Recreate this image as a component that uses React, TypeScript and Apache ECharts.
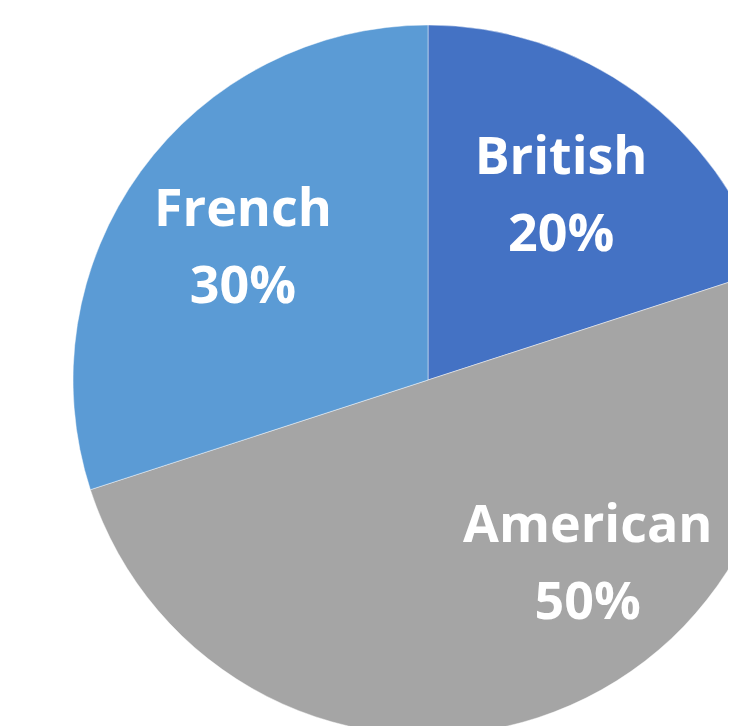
import React, { useEffect, useRef } from "react";
import * as echarts from "echarts";

const categories = ["British", "American", "French"];
const values = [20, 50, 30];
const colors = ["#4472C4", "#A5A5A5", "#5B9BD5"];
const labelOffsets: [number, number][] = [
  [27, -42],
  [104, 8],
  [-39, -30],
];

export default function App() {
  const ref = useRef<HTMLDivElement>(null);
  useEffect(() => {
    if (!ref.current) return;
    const chart = echarts.init(ref.current, null, { renderer: "svg" });
    chart.setOption({
      animation: false,
      backgroundColor: "#ffffff",
      series: [
        {
          type: "pie",
          center: [420, 372],
          radius: 355,
          startAngle: 90,
          clockwise: true,
          silent: true,
          itemStyle: { borderColor: "rgba(255,255,255,0.45)", borderWidth: 1 },
          label: {
            show: true,
            position: "inside",
            formatter: "{b}\n{d}%",
            color: "#ffffff",
            fontFamily: "Open Sans",
            fontWeight: "bold",
            fontSize: 52,
            lineHeight: 77,
          },
          labelLine: { show: false },
          data: categories.map((name, i) => ({
            name,
            value: values[i],
            itemStyle: { color: colors[i] },
            label: { offset: labelOffsets[i] },
          })),
        },
      ],
    });
    return () => chart.dispose();
  }, []);
  return <div ref={ref} style={{ width: 728, height: 718 }} />;
}
